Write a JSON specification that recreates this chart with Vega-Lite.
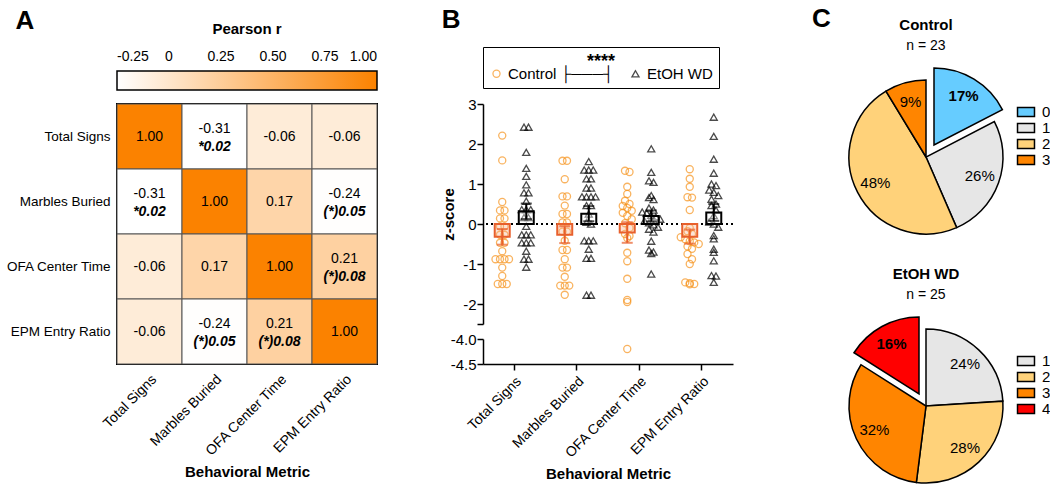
{
  "$schema": "https://vega.github.io/schema/vega-lite/v6.json",
  "padding": {"top": 6, "left": 4, "right": 5, "bottom": 5},
  "config": {
    "font": "Liberation Sans",
    "view": {"stroke": null},
    "axis": {"labelColor": "black", "titleColor": "black", "domainColor": "black", "tickColor": "black", "grid": false},
    "legend": {"labelColor": "black", "titleColor": "black"},
    "title": {"color": "black", "subtitleColor": "black"},
    "text": {"color": "black"},
    "locale": {"number": {"decimal": ".", "thousands": ",", "grouping": [3], "currency": ["$", ""], "minus": "-"}}
  },
  "spacing": 78,
  "resolve": {
    "scale": {"color": "independent", "theta": "independent", "stroke": "independent", "shape": "independent", "x": "independent", "y": "independent"},
    "legend": {"color": "independent", "stroke": "independent", "shape": "independent"}
  },
  "hconcat": [
    {
      "spacing": 62,
      "resolve": {
        "scale": {"color": "independent", "stroke": "independent", "shape": "independent", "x": "independent", "y": "independent"},
        "legend": {"color": "independent", "stroke": "independent", "shape": "independent"}
      },
      "hconcat": [
        {
          "title": {"text": "A", "anchor": "start", "fontSize": 26, "fontWeight": "bold", "dy": 16, "dx": 10},
          "width": 260,
          "height": 260,
          "view": {"stroke": "black", "strokeWidth": 2},
          "data": {"values": [
            {"row": "Total Signs", "col": "Total Signs", "r": 1.00, "p": ""},
            {"row": "Total Signs", "col": "Marbles Buried", "r": -0.31, "p": "*0.02"},
            {"row": "Total Signs", "col": "OFA Center Time", "r": -0.06, "p": ""},
            {"row": "Total Signs", "col": "EPM Entry Ratio", "r": -0.06, "p": ""},
            {"row": "Marbles Buried", "col": "Total Signs", "r": -0.31, "p": "*0.02"},
            {"row": "Marbles Buried", "col": "Marbles Buried", "r": 1.00, "p": ""},
            {"row": "Marbles Buried", "col": "OFA Center Time", "r": 0.17, "p": ""},
            {"row": "Marbles Buried", "col": "EPM Entry Ratio", "r": -0.24, "p": "(*)0.05"},
            {"row": "OFA Center Time", "col": "Total Signs", "r": -0.06, "p": ""},
            {"row": "OFA Center Time", "col": "Marbles Buried", "r": 0.17, "p": ""},
            {"row": "OFA Center Time", "col": "OFA Center Time", "r": 1.00, "p": ""},
            {"row": "OFA Center Time", "col": "EPM Entry Ratio", "r": 0.21, "p": "(*)0.08"},
            {"row": "EPM Entry Ratio", "col": "Total Signs", "r": -0.06, "p": ""},
            {"row": "EPM Entry Ratio", "col": "Marbles Buried", "r": -0.24, "p": "(*)0.05"},
            {"row": "EPM Entry Ratio", "col": "OFA Center Time", "r": 0.21, "p": "(*)0.08"},
            {"row": "EPM Entry Ratio", "col": "EPM Entry Ratio", "r": 1.00, "p": ""}
          ]},
          "encoding": {
            "x": {"field": "col", "type": "nominal", "sort": ["Total Signs", "Marbles Buried", "OFA Center Time", "EPM Entry Ratio"],
              "axis": {"labelAngle": -45, "labelAlign": "right", "labelBaseline": "top", "labelFontSize": 14, "ticks": false, "domain": false, "labelPadding": 8, "title": "Behavioral Metric", "titleFontSize": 15, "titleFontWeight": "bold", "titlePadding": 6}},
            "y": {"field": "row", "type": "nominal", "sort": ["Total Signs", "Marbles Buried", "OFA Center Time", "EPM Entry Ratio"],
              "axis": {"labelFontSize": 13.5, "ticks": false, "domain": false, "labelPadding": 7, "title": null}}
          },
          "layer": [
            {
              "mark": {"type": "rect", "stroke": "#555555", "strokeWidth": 1},
              "encoding": {"color": {"field": "r", "type": "quantitative", "scale": {"domain": [-0.25, 1], "range": ["#ffffff", "#fb8200"], "interpolate": "rgb", "clamp": true, "zero": false, "nice": false},
                "legend": {"orient": "top", "direction": "horizontal", "title": "Pearson r", "titleFontSize": 15, "titleFontWeight": "bold", "titleAnchor": "middle", "titleOrient": "top", "titlePadding": 34, "gradientLength": 260, "gradientThickness": 19, "gradientStrokeColor": "black", "gradientStrokeWidth": 1.5, "values": [-0.25, 0, 0.25, 0.5, 0.75, 1], "labelExpr": "datum.value == 0 ? '0' : format(datum.value, '.2f')", "labelFontSize": 14, "labelOffset": -40, "labelOverlap": false, "offset": 13, "padding": 0}}}
            },
            {
              "transform": [{"filter": "datum.p == ''"}],
              "mark": {"type": "text", "fontSize": 14},
              "encoding": {"text": {"field": "r", "type": "quantitative", "format": ".2f"}}
            },
            {
              "transform": [{"filter": "datum.p != ''"}],
              "mark": {"type": "text", "fontSize": 14, "dy": -8},
              "encoding": {"text": {"field": "r", "type": "quantitative", "format": ".2f"}}
            },
            {
              "transform": [{"filter": "datum.p != ''"}],
              "mark": {"type": "text", "fontSize": 14, "dy": 10, "fontWeight": "bold", "fontStyle": "italic"},
              "encoding": {"text": {"field": "p", "type": "nominal"}}
            }
          ]
        },
        {
          "title": {"text": "B", "anchor": "start", "fontSize": 26, "fontWeight": "bold", "offset": 14},
          "spacing": 0,
          "resolve": {"scale": {"y": "independent", "xOffset": "independent"}, "axis": {"y": "independent"}},
          "data": {"values": [
            {"metric": "Total Signs", "group": "Control", "z": 2.21}, {"metric": "Total Signs", "group": "Control", "z": 1.59}, {"metric": "Total Signs", "group": "Control", "z": 0.55}, {"metric": "Total Signs", "group": "Control", "z": 0.34}, {"metric": "Total Signs", "group": "Control", "z": 0.34}, {"metric": "Total Signs", "group": "Control", "z": 0.14}, {"metric": "Total Signs", "group": "Control", "z": 0.14}, {"metric": "Total Signs", "group": "Control", "z": -0.06}, {"metric": "Total Signs", "group": "Control", "z": -0.06}, {"metric": "Total Signs", "group": "Control", "z": -0.27}, {"metric": "Total Signs", "group": "Control", "z": -0.27}, {"metric": "Total Signs", "group": "Control", "z": -0.47}, {"metric": "Total Signs", "group": "Control", "z": -0.47}, {"metric": "Total Signs", "group": "Control", "z": -0.68}, {"metric": "Total Signs", "group": "Control", "z": -0.88}, {"metric": "Total Signs", "group": "Control", "z": -0.88}, {"metric": "Total Signs", "group": "Control", "z": -0.88}, {"metric": "Total Signs", "group": "Control", "z": -0.88}, {"metric": "Total Signs", "group": "Control", "z": -1.09}, {"metric": "Total Signs", "group": "Control", "z": -1.30}, {"metric": "Total Signs", "group": "Control", "z": -1.50}, {"metric": "Total Signs", "group": "Control", "z": -1.50}, {"metric": "Total Signs", "group": "Control", "z": -1.50},
            {"metric": "Total Signs", "group": "EtOH WD", "z": 2.42}, {"metric": "Total Signs", "group": "EtOH WD", "z": 2.42}, {"metric": "Total Signs", "group": "EtOH WD", "z": 1.79}, {"metric": "Total Signs", "group": "EtOH WD", "z": 1.39}, {"metric": "Total Signs", "group": "EtOH WD", "z": 1.19}, {"metric": "Total Signs", "group": "EtOH WD", "z": 0.98}, {"metric": "Total Signs", "group": "EtOH WD", "z": 0.78}, {"metric": "Total Signs", "group": "EtOH WD", "z": 0.78}, {"metric": "Total Signs", "group": "EtOH WD", "z": 0.57}, {"metric": "Total Signs", "group": "EtOH WD", "z": 0.36}, {"metric": "Total Signs", "group": "EtOH WD", "z": 0.36}, {"metric": "Total Signs", "group": "EtOH WD", "z": 0.36}, {"metric": "Total Signs", "group": "EtOH WD", "z": 0.16}, {"metric": "Total Signs", "group": "EtOH WD", "z": 0.16}, {"metric": "Total Signs", "group": "EtOH WD", "z": -0.06}, {"metric": "Total Signs", "group": "EtOH WD", "z": -0.27}, {"metric": "Total Signs", "group": "EtOH WD", "z": -0.27}, {"metric": "Total Signs", "group": "EtOH WD", "z": -0.27}, {"metric": "Total Signs", "group": "EtOH WD", "z": -0.47}, {"metric": "Total Signs", "group": "EtOH WD", "z": -0.47}, {"metric": "Total Signs", "group": "EtOH WD", "z": -0.47}, {"metric": "Total Signs", "group": "EtOH WD", "z": -0.68}, {"metric": "Total Signs", "group": "EtOH WD", "z": -0.88}, {"metric": "Total Signs", "group": "EtOH WD", "z": -0.88}, {"metric": "Total Signs", "group": "EtOH WD", "z": -1.08},
            {"metric": "Marbles Buried", "group": "Control", "z": 1.58}, {"metric": "Marbles Buried", "group": "Control", "z": 1.58}, {"metric": "Marbles Buried", "group": "Control", "z": 1.12}, {"metric": "Marbles Buried", "group": "Control", "z": 0.69}, {"metric": "Marbles Buried", "group": "Control", "z": 0.69}, {"metric": "Marbles Buried", "group": "Control", "z": 0.46}, {"metric": "Marbles Buried", "group": "Control", "z": 0.25}, {"metric": "Marbles Buried", "group": "Control", "z": 0.25}, {"metric": "Marbles Buried", "group": "Control", "z": 0.04}, {"metric": "Marbles Buried", "group": "Control", "z": 0.04}, {"metric": "Marbles Buried", "group": "Control", "z": -0.19}, {"metric": "Marbles Buried", "group": "Control", "z": -0.19}, {"metric": "Marbles Buried", "group": "Control", "z": -0.42}, {"metric": "Marbles Buried", "group": "Control", "z": -0.65}, {"metric": "Marbles Buried", "group": "Control", "z": -0.65}, {"metric": "Marbles Buried", "group": "Control", "z": -0.88}, {"metric": "Marbles Buried", "group": "Control", "z": -1.09}, {"metric": "Marbles Buried", "group": "Control", "z": -1.09}, {"metric": "Marbles Buried", "group": "Control", "z": -1.32}, {"metric": "Marbles Buried", "group": "Control", "z": -1.54}, {"metric": "Marbles Buried", "group": "Control", "z": -1.54}, {"metric": "Marbles Buried", "group": "Control", "z": -1.54}, {"metric": "Marbles Buried", "group": "Control", "z": -1.77},
            {"metric": "Marbles Buried", "group": "EtOH WD", "z": 1.56}, {"metric": "Marbles Buried", "group": "EtOH WD", "z": 1.35}, {"metric": "Marbles Buried", "group": "EtOH WD", "z": 1.35}, {"metric": "Marbles Buried", "group": "EtOH WD", "z": 1.35}, {"metric": "Marbles Buried", "group": "EtOH WD", "z": 1.13}, {"metric": "Marbles Buried", "group": "EtOH WD", "z": 1.13}, {"metric": "Marbles Buried", "group": "EtOH WD", "z": 0.90}, {"metric": "Marbles Buried", "group": "EtOH WD", "z": 0.90}, {"metric": "Marbles Buried", "group": "EtOH WD", "z": 0.68}, {"metric": "Marbles Buried", "group": "EtOH WD", "z": 0.68}, {"metric": "Marbles Buried", "group": "EtOH WD", "z": 0.68}, {"metric": "Marbles Buried", "group": "EtOH WD", "z": 0.68}, {"metric": "Marbles Buried", "group": "EtOH WD", "z": 0.46}, {"metric": "Marbles Buried", "group": "EtOH WD", "z": 0.46}, {"metric": "Marbles Buried", "group": "EtOH WD", "z": 0.25}, {"metric": "Marbles Buried", "group": "EtOH WD", "z": 0.04}, {"metric": "Marbles Buried", "group": "EtOH WD", "z": 0.00}, {"metric": "Marbles Buried", "group": "EtOH WD", "z": -0.42}, {"metric": "Marbles Buried", "group": "EtOH WD", "z": -0.42}, {"metric": "Marbles Buried", "group": "EtOH WD", "z": -0.42}, {"metric": "Marbles Buried", "group": "EtOH WD", "z": -0.63}, {"metric": "Marbles Buried", "group": "EtOH WD", "z": -0.86}, {"metric": "Marbles Buried", "group": "EtOH WD", "z": -0.86}, {"metric": "Marbles Buried", "group": "EtOH WD", "z": -1.78}, {"metric": "Marbles Buried", "group": "EtOH WD", "z": -1.78},
            {"metric": "OFA Center Time", "group": "Control", "z": 1.33}, {"metric": "OFA Center Time", "group": "Control", "z": 1.30}, {"metric": "OFA Center Time", "group": "Control", "z": 0.93}, {"metric": "OFA Center Time", "group": "Control", "z": 0.75}, {"metric": "OFA Center Time", "group": "Control", "z": 0.58}, {"metric": "OFA Center Time", "group": "Control", "z": 0.50}, {"metric": "OFA Center Time", "group": "Control", "z": 0.45}, {"metric": "OFA Center Time", "group": "Control", "z": 0.40}, {"metric": "OFA Center Time", "group": "Control", "z": 0.33}, {"metric": "OFA Center Time", "group": "Control", "z": 0.28}, {"metric": "OFA Center Time", "group": "Control", "z": 0.20}, {"metric": "OFA Center Time", "group": "Control", "z": 0.12}, {"metric": "OFA Center Time", "group": "Control", "z": 0.02}, {"metric": "OFA Center Time", "group": "Control", "z": -0.10}, {"metric": "OFA Center Time", "group": "Control", "z": -0.25}, {"metric": "OFA Center Time", "group": "Control", "z": -0.30}, {"metric": "OFA Center Time", "group": "Control", "z": -0.35}, {"metric": "OFA Center Time", "group": "Control", "z": -0.72}, {"metric": "OFA Center Time", "group": "Control", "z": -0.93}, {"metric": "OFA Center Time", "group": "Control", "z": -1.37}, {"metric": "OFA Center Time", "group": "Control", "z": -1.90}, {"metric": "OFA Center Time", "group": "Control", "z": -1.95}, {"metric": "OFA Center Time", "group": "Control", "z": -4.20},
            {"metric": "OFA Center Time", "group": "EtOH WD", "z": 1.88}, {"metric": "OFA Center Time", "group": "EtOH WD", "z": 1.29}, {"metric": "OFA Center Time", "group": "EtOH WD", "z": 1.08}, {"metric": "OFA Center Time", "group": "EtOH WD", "z": 1.04}, {"metric": "OFA Center Time", "group": "EtOH WD", "z": 0.71}, {"metric": "OFA Center Time", "group": "EtOH WD", "z": 0.66}, {"metric": "OFA Center Time", "group": "EtOH WD", "z": 0.61}, {"metric": "OFA Center Time", "group": "EtOH WD", "z": 0.40}, {"metric": "OFA Center Time", "group": "EtOH WD", "z": 0.35}, {"metric": "OFA Center Time", "group": "EtOH WD", "z": 0.30}, {"metric": "OFA Center Time", "group": "EtOH WD", "z": 0.27}, {"metric": "OFA Center Time", "group": "EtOH WD", "z": 0.22}, {"metric": "OFA Center Time", "group": "EtOH WD", "z": 0.18}, {"metric": "OFA Center Time", "group": "EtOH WD", "z": 0.12}, {"metric": "OFA Center Time", "group": "EtOH WD", "z": 0.08}, {"metric": "OFA Center Time", "group": "EtOH WD", "z": 0.03}, {"metric": "OFA Center Time", "group": "EtOH WD", "z": -0.02}, {"metric": "OFA Center Time", "group": "EtOH WD", "z": -0.08}, {"metric": "OFA Center Time", "group": "EtOH WD", "z": -0.13}, {"metric": "OFA Center Time", "group": "EtOH WD", "z": -0.20}, {"metric": "OFA Center Time", "group": "EtOH WD", "z": -0.43}, {"metric": "OFA Center Time", "group": "EtOH WD", "z": -0.65}, {"metric": "OFA Center Time", "group": "EtOH WD", "z": -0.70}, {"metric": "OFA Center Time", "group": "EtOH WD", "z": -0.74}, {"metric": "OFA Center Time", "group": "EtOH WD", "z": -1.25},
            {"metric": "EPM Entry Ratio", "group": "Control", "z": 1.37}, {"metric": "EPM Entry Ratio", "group": "Control", "z": 1.13}, {"metric": "EPM Entry Ratio", "group": "Control", "z": 0.93}, {"metric": "EPM Entry Ratio", "group": "Control", "z": 0.67}, {"metric": "EPM Entry Ratio", "group": "Control", "z": 0.66}, {"metric": "EPM Entry Ratio", "group": "Control", "z": 0.35}, {"metric": "EPM Entry Ratio", "group": "Control", "z": -0.10}, {"metric": "EPM Entry Ratio", "group": "Control", "z": -0.18}, {"metric": "EPM Entry Ratio", "group": "Control", "z": -0.25}, {"metric": "EPM Entry Ratio", "group": "Control", "z": -0.33}, {"metric": "EPM Entry Ratio", "group": "Control", "z": -0.38}, {"metric": "EPM Entry Ratio", "group": "Control", "z": -0.43}, {"metric": "EPM Entry Ratio", "group": "Control", "z": -0.46}, {"metric": "EPM Entry Ratio", "group": "Control", "z": -0.50}, {"metric": "EPM Entry Ratio", "group": "Control", "z": -0.56}, {"metric": "EPM Entry Ratio", "group": "Control", "z": -0.62}, {"metric": "EPM Entry Ratio", "group": "Control", "z": -0.75}, {"metric": "EPM Entry Ratio", "group": "Control", "z": -0.88}, {"metric": "EPM Entry Ratio", "group": "Control", "z": -1.00}, {"metric": "EPM Entry Ratio", "group": "Control", "z": -1.46}, {"metric": "EPM Entry Ratio", "group": "Control", "z": -1.48}, {"metric": "EPM Entry Ratio", "group": "Control", "z": -1.50}, {"metric": "EPM Entry Ratio", "group": "Control", "z": -1.51},
            {"metric": "EPM Entry Ratio", "group": "EtOH WD", "z": 2.67}, {"metric": "EPM Entry Ratio", "group": "EtOH WD", "z": 2.19}, {"metric": "EPM Entry Ratio", "group": "EtOH WD", "z": 1.62}, {"metric": "EPM Entry Ratio", "group": "EtOH WD", "z": 1.27}, {"metric": "EPM Entry Ratio", "group": "EtOH WD", "z": 1.00}, {"metric": "EPM Entry Ratio", "group": "EtOH WD", "z": 0.96}, {"metric": "EPM Entry Ratio", "group": "EtOH WD", "z": 0.85}, {"metric": "EPM Entry Ratio", "group": "EtOH WD", "z": 0.79}, {"metric": "EPM Entry Ratio", "group": "EtOH WD", "z": 0.71}, {"metric": "EPM Entry Ratio", "group": "EtOH WD", "z": 0.62}, {"metric": "EPM Entry Ratio", "group": "EtOH WD", "z": 0.50}, {"metric": "EPM Entry Ratio", "group": "EtOH WD", "z": 0.46}, {"metric": "EPM Entry Ratio", "group": "EtOH WD", "z": 0.35}, {"metric": "EPM Entry Ratio", "group": "EtOH WD", "z": 0.21}, {"metric": "EPM Entry Ratio", "group": "EtOH WD", "z": 0.05}, {"metric": "EPM Entry Ratio", "group": "EtOH WD", "z": 0.00}, {"metric": "EPM Entry Ratio", "group": "EtOH WD", "z": -0.08}, {"metric": "EPM Entry Ratio", "group": "EtOH WD", "z": -0.29}, {"metric": "EPM Entry Ratio", "group": "EtOH WD", "z": -0.37}, {"metric": "EPM Entry Ratio", "group": "EtOH WD", "z": -0.63}, {"metric": "EPM Entry Ratio", "group": "EtOH WD", "z": -0.71}, {"metric": "EPM Entry Ratio", "group": "EtOH WD", "z": -0.92}, {"metric": "EPM Entry Ratio", "group": "EtOH WD", "z": -1.29}, {"metric": "EPM Entry Ratio", "group": "EtOH WD", "z": -1.30}, {"metric": "EPM Entry Ratio", "group": "EtOH WD", "z": -1.46}
          ]},
          "vconcat": [
            {
              "width": 250,
              "height": 220,
              "layer": [
                {
                  "mark": {"type": "rule", "strokeDash": [2, 3], "strokeWidth": 1.5, "color": "black"},
                  "encoding": {"y": {"datum": 0, "type": "quantitative", "scale": {"domain": [-2.5, 3], "nice": false, "zero": false},
                    "axis": {"values": [-2.5, -2, -1, 0, 1, 2, 3], "labelExpr": "datum.value == -2.5 ? '' : datum.label", "labelFontSize": 15, "labelPadding": 1, "labelOverlap": false, "domainWidth": 1.5, "tickWidth": 1.5, "tickSize": 6, "title": "z-score", "titleFontSize": 15, "titleFontWeight": "bold", "titlePadding": 6}}}
                },
                {
                  "transform": [
                    {"calculate": "round(datum.z / 0.2)", "as": "bin"},
                    {"window": [{"op": "row_number", "as": "rk"}], "groupby": ["metric", "group", "bin"]},
                    {"joinaggregate": [{"op": "count", "as": "nb"}], "groupby": ["metric", "group", "bin"]},
                    {"calculate": "(datum.group == 'Control' ? -12 : 12) + (datum.rk - (datum.nb + 1) / 2) * 4.5", "as": "off"}
                  ],
                  "mark": {"type": "point", "filled": false, "strokeWidth": 1.3, "size": 50, "clip": true},
                  "encoding": {
                    "x": {"field": "metric", "type": "nominal", "sort": ["Total Signs", "Marbles Buried", "OFA Center Time", "EPM Entry Ratio"], "scale": {"paddingInner": 0, "paddingOuter": 0}, "axis": null},
                    "xOffset": {"field": "off", "type": "quantitative", "scale": {"domain": [-31.25, 31.25]}},
                    "y": {"field": "z", "type": "quantitative",
                      "axis": {"values": [-2.5, -2, -1, 0, 1, 2, 3], "labelExpr": "datum.value == -2.5 ? '' : datum.label", "labelFontSize": 15, "labelPadding": 1, "labelOverlap": false, "domainWidth": 1.5, "tickWidth": 1.5, "tickSize": 6, "title": "z-score", "titleFontSize": 15, "titleFontWeight": "bold", "titlePadding": 6}},
                    "shape": {"field": "group", "type": "nominal", "scale": {"domain": ["Control", "EtOH WD"], "range": ["circle", "triangle-up"]},
                      "legend": {"title": "****", "orient": "top", "direction": "horizontal", "titleOrient": "top", "titleAnchor": "middle", "titleFontSize": 18, "titleFontWeight": "bold", "titlePadding": -5, "labelFontSize": 15, "symbolSize": 50, "symbolStrokeWidth": 1.3, "columnPadding": 14, "padding": 6, "offset": 9, "strokeColor": "black", "labelExpr": "datum.label == 'Control' ? 'Control ├───┤' : datum.label"}},
                    "stroke": {"field": "group", "type": "nominal", "scale": {"domain": ["Control", "EtOH WD"], "range": ["#f7941d", "black"]},
                      "legend": {"title": "****", "orient": "top", "direction": "horizontal", "titleOrient": "top", "titleAnchor": "middle", "titleFontSize": 18, "titleFontWeight": "bold", "titlePadding": -5, "labelFontSize": 15, "symbolSize": 50, "symbolStrokeWidth": 1.3, "columnPadding": 14, "padding": 6, "offset": 9, "strokeColor": "black", "labelExpr": "datum.label == 'Control' ? 'Control ├───┤' : datum.label"}}
                  }
                },
                {
                  "mark": {"type": "bar", "width": 15, "strokeWidth": 2, "fillOpacity": 0.35},
                  "encoding": {
                    "x": {"field": "metric", "type": "nominal", "sort": ["Total Signs", "Marbles Buried", "OFA Center Time", "EPM Entry Ratio"], "scale": {"paddingInner": 0, "paddingOuter": 0}, "axis": null},
                    "xOffset": {"field": "group", "type": "nominal", "scale": {"domain": ["Control", "EtOH WD"], "paddingInner": 0, "paddingOuter": 0.3}},
                    "y": {"aggregate": "mean", "field": "z", "type": "quantitative",
                      "axis": {"values": [-2.5, -2, -1, 0, 1, 2, 3], "labelExpr": "datum.value == -2.5 ? '' : datum.label", "labelFontSize": 15, "labelPadding": 1, "labelOverlap": false, "domainWidth": 1.5, "tickWidth": 1.5, "tickSize": 6, "title": "z-score", "titleFontSize": 15, "titleFontWeight": "bold", "titlePadding": 6}},
                    "stroke": {"condition": {"test": "datum.group == 'Control'", "value": "#e8602c"}, "value": "black"},
                    "fill": {"condition": {"test": "datum.group == 'Control'", "value": "#f6b08c"}, "value": "white"}
                  }
                },
                {
                  "mark": {"type": "errorbar", "extent": "stderr", "ticks": true, "size": 11, "thickness": 2},
                  "encoding": {
                    "x": {"field": "metric", "type": "nominal", "sort": ["Total Signs", "Marbles Buried", "OFA Center Time", "EPM Entry Ratio"], "scale": {"paddingInner": 0, "paddingOuter": 0}, "axis": null},
                    "xOffset": {"field": "group", "type": "nominal", "scale": {"domain": ["Control", "EtOH WD"], "paddingInner": 0, "paddingOuter": 0.3}},
                    "y": {"field": "z", "type": "quantitative", "title": "z-score",
                      "axis": {"values": [-2.5, -2, -1, 0, 1, 2, 3], "labelExpr": "datum.value == -2.5 ? '' : datum.label", "labelFontSize": 15, "labelPadding": 1, "labelOverlap": false, "domainWidth": 1.5, "tickWidth": 1.5, "tickSize": 6, "title": "z-score", "titleFontSize": 15, "titleFontWeight": "bold", "titlePadding": 6}},
                    "color": {"condition": {"test": "datum.group == 'Control'", "value": "#e8602c"}, "value": "black"}
                  }
                }
              ],
              "resolve": {"scale": {"xOffset": "independent"}}
            },
            {
              "width": 250,
              "height": 25,
              "transform": [
                {"calculate": "round(datum.z / 0.2)", "as": "bin"},
                {"window": [{"op": "row_number", "as": "rk"}], "groupby": ["metric", "group", "bin"]},
                {"joinaggregate": [{"op": "count", "as": "nb"}], "groupby": ["metric", "group", "bin"]},
                {"calculate": "(datum.group == 'Control' ? -12 : 12) + (datum.rk - (datum.nb + 1) / 2) * 4.5", "as": "off"}
              ],
              "mark": {"type": "point", "filled": false, "strokeWidth": 1.3, "size": 50, "clip": true},
              "encoding": {
                "x": {"field": "metric", "type": "nominal", "sort": ["Total Signs", "Marbles Buried", "OFA Center Time", "EPM Entry Ratio"], "scale": {"paddingInner": 0, "paddingOuter": 0},
                  "axis": {"labelAngle": -45, "labelAlign": "right", "labelBaseline": "top", "labelFontSize": 14, "domainWidth": 1.5, "tickWidth": 1.5, "tickSize": 6, "labelPadding": 4, "title": "Behavioral Metric", "titleFontSize": 15, "titleFontWeight": "bold", "titlePadding": 6}},
                "xOffset": {"field": "off", "type": "quantitative", "scale": {"domain": [-31.25, 31.25]}},
                "y": {"field": "z", "type": "quantitative", "scale": {"domain": [-4.5, -4.0], "nice": false, "zero": false},
                  "axis": {"values": [-4.5, -4.0], "format": ".1f", "labelFontSize": 15, "labelPadding": 1, "domainWidth": 1.5, "tickWidth": 1.5, "tickSize": 6, "title": null}},
                "shape": {"field": "group", "type": "nominal", "scale": {"domain": ["Control", "EtOH WD"], "range": ["circle", "triangle-up"]}, "legend": null},
                "stroke": {"field": "group", "type": "nominal", "scale": {"domain": ["Control", "EtOH WD"], "range": ["#f7941d", "black"]}, "legend": null}
              }
            }
          ]
        }
      ]
    },
    {
      "title": {"text": "C", "anchor": "start", "fontSize": 26, "fontWeight": "bold", "dy": 18, "dx": -30},
      "spacing": 30,
      "resolve": {"scale": {"color": "independent", "theta": "independent"}, "legend": {"color": "independent"}},
      "vconcat": [
        {
          "title": {"text": "Control", "subtitle": "n = 23", "fontSize": 15, "fontWeight": "bold", "subtitleFontSize": 14, "anchor": "middle", "offset": 12, "subtitlePadding": 6},
          "width": 168,
          "height": 106,
          "data": {"values": [{"score": "0", "n": 4}, {"score": "1", "n": 6}, {"score": "2", "n": 11}, {"score": "3", "n": 2}]},
          "transform": [
            {"stack": "n", "groupby": [], "sort": [{"field": "score", "order": "ascending"}], "offset": "normalize", "as": ["t0", "t1"]},
            {"calculate": "(datum.t0 + datum.t1) / 2", "as": "mid"},
            {"calculate": "datum.t1 - datum.t0", "as": "frac"}
          ],
          "layer": [
            {
              "transform": [{"filter": "datum.score != '0'"}],
              "mark": {"type": "arc", "outerRadius": 77, "stroke": "black", "strokeWidth": 1.5},
              "encoding": {
                "theta": {"field": "t0", "type": "quantitative", "stack": null, "scale": {"domain": [0, 1]}},
                "theta2": {"field": "t1"},
                "color": {"field": "score", "type": "nominal", "scale": {"domain": ["0", "1", "2", "3"], "range": ["#66ccff", "#e6e6e6", "#ffd27a", "#ff8500"]},
                  "legend": {"title": null, "orient": "right", "offset": 8, "labelFontSize": 15, "symbolType": "M-1.2,-0.65H1.2V0.65H-1.2Z", "symbolSize": 200, "symbolStrokeColor": "black", "symbolStrokeWidth": 1.5, "rowPadding": 0, "labelOffset": 8}}
              }
            },
            {
              "transform": [{"filter": "datum.score == '0'"}],
              "mark": {"type": "arc", "outerRadius": 77, "stroke": "black", "strokeWidth": 1.5, "xOffset": 8, "yOffset": -12},
              "encoding": {
                "theta": {"field": "t0", "type": "quantitative", "stack": null},
                "theta2": {"field": "t1"},
                "color": {"field": "score", "type": "nominal"}
              }
            },
            {
              "transform": [{"filter": "datum.score != '0'"}],
              "mark": {"type": "text", "radius": 57, "fontSize": 15},
              "encoding": {
                "theta": {"field": "mid", "type": "quantitative", "stack": null},
                "text": {"field": "frac", "type": "quantitative", "format": ".0%"}
              }
            },
            {
              "transform": [{"filter": "datum.score == '0'"}],
              "mark": {"type": "text", "radius": 57, "fontSize": 15, "fontWeight": "bold", "xOffset": 8, "yOffset": -12},
              "encoding": {
                "theta": {"field": "mid", "type": "quantitative", "stack": null},
                "text": {"field": "frac", "type": "quantitative", "format": ".0%"}
              }
            }
          ]
        },
        {
          "title": {"text": "EtOH WD", "subtitle": "n = 25", "fontSize": 15, "fontWeight": "bold", "subtitleFontSize": 14, "anchor": "middle", "offset": 12, "subtitlePadding": 6},
          "width": 168,
          "height": 106,
          "data": {"values": [{"score": "1", "n": 6}, {"score": "2", "n": 7}, {"score": "3", "n": 8}, {"score": "4", "n": 4}]},
          "transform": [
            {"stack": "n", "groupby": [], "sort": [{"field": "score", "order": "ascending"}], "offset": "normalize", "as": ["t0", "t1"]},
            {"calculate": "(datum.t0 + datum.t1) / 2", "as": "mid"},
            {"calculate": "datum.t1 - datum.t0", "as": "frac"}
          ],
          "layer": [
            {
              "transform": [{"filter": "datum.score != '4'"}],
              "mark": {"type": "arc", "outerRadius": 77, "stroke": "black", "strokeWidth": 1.5},
              "encoding": {
                "theta": {"field": "t0", "type": "quantitative", "stack": null, "scale": {"domain": [0, 1]}},
                "theta2": {"field": "t1"},
                "color": {"field": "score", "type": "nominal", "scale": {"domain": ["1", "2", "3", "4"], "range": ["#e6e6e6", "#ffd27a", "#ff8500", "#ff0000"]},
                  "legend": {"title": null, "orient": "right", "offset": 8, "labelFontSize": 15, "symbolType": "M-1.2,-0.65H1.2V0.65H-1.2Z", "symbolSize": 200, "symbolStrokeColor": "black", "symbolStrokeWidth": 1.5, "rowPadding": 0, "labelOffset": 8}}
              }
            },
            {
              "transform": [{"filter": "datum.score == '4'"}],
              "mark": {"type": "arc", "outerRadius": 77, "stroke": "black", "strokeWidth": 1.5, "xOffset": -7, "yOffset": -12},
              "encoding": {
                "theta": {"field": "t0", "type": "quantitative", "stack": null},
                "theta2": {"field": "t1"},
                "color": {"field": "score", "type": "nominal"}
              }
            },
            {
              "transform": [{"filter": "datum.score != '4'"}],
              "mark": {"type": "text", "radius": 57, "fontSize": 15},
              "encoding": {
                "theta": {"field": "mid", "type": "quantitative", "stack": null},
                "text": {"field": "frac", "type": "quantitative", "format": ".0%"}
              }
            },
            {
              "transform": [{"filter": "datum.score == '4'"}],
              "mark": {"type": "text", "radius": 57, "fontSize": 15, "fontWeight": "bold", "xOffset": -7, "yOffset": -12},
              "encoding": {
                "theta": {"field": "mid", "type": "quantitative", "stack": null},
                "text": {"field": "frac", "type": "quantitative", "format": ".0%"}
              }
            }
          ]
        }
      ]
    }
  ]
}
